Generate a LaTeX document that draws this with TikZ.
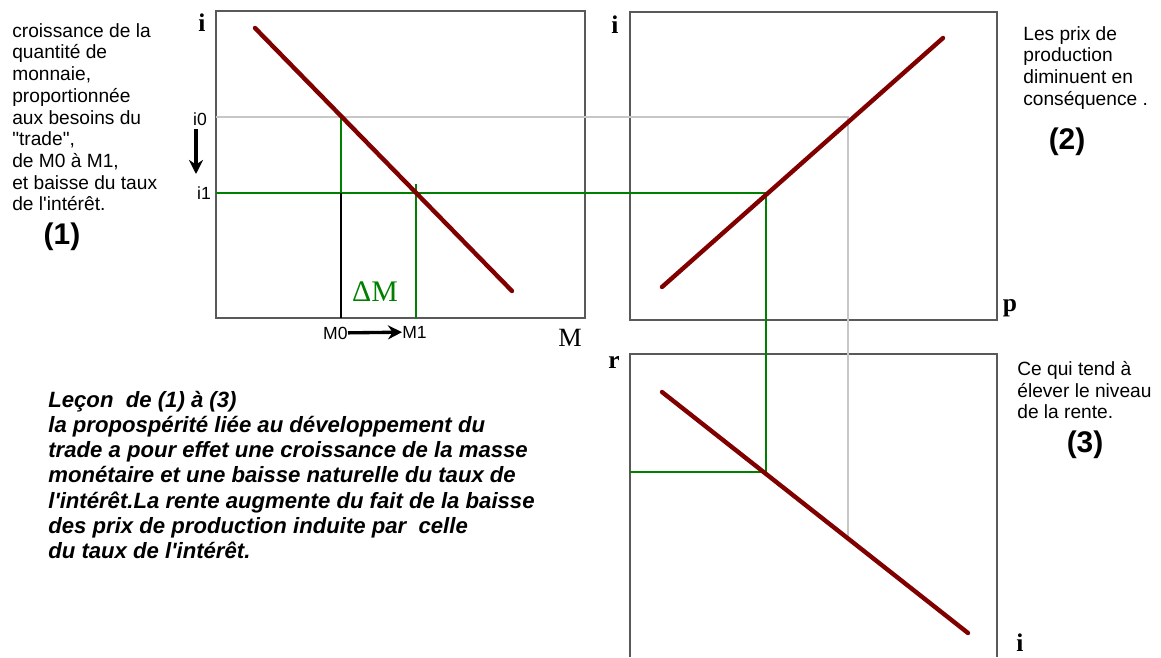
\documentclass[tikz,border=0pt]{standalone}
\usepackage{fontspec}
\setmainfont{Liberation Sans}
\newfontfamily\timesfont{Liberation Serif}
\usepackage{xcolor}
\usepackage{tikz}
\usetikzlibrary{arrows.meta}

\definecolor{rougecourbe}{RGB}{128,0,0}
\definecolor{vertrepere}{RGB}{0,128,0}

\begin{document}
\begin{tikzpicture}[x=0.02cm, y=-0.02cm,
  cadre/.style={draw=black!65, line width=0.75pt},
  courbe/.style={draw=rougecourbe, line width=2.5pt, line cap=round},
  repere/.style={draw=vertrepere, line width=1.1pt},
  guide/.style={draw=black!22, line width=0.7pt},
  texte/.style={font=\fontsize{10.9}{12.35}\selectfont, align=left, inner sep=0pt, anchor=north west},
  lecon/.style={font=\fontsize{12.6}{14.3}\selectfont\bfseries\itshape, align=left, inner sep=0pt, anchor=north west},
  numero/.style={font=\fontsize{17}{20}\selectfont\bfseries, inner sep=0pt},
  axe/.style={font=\timesfont\fontsize{14.5}{16}\selectfont\bfseries, inner sep=0pt},
  petit/.style={font=\fontsize{10}{12}\selectfont, inner sep=0pt},
  fleche/.style={-{Stealth[length=8pt,width=8pt]}, line width=1.9pt}]

\useasboundingbox (0,0) rectangle (1161,657);

% Graphique (1) : i et M
\coordinate (g1bas) at (216,318);
\coordinate (g1haut) at (585,11);
\coordinate (i0) at (216,117);
\coordinate (i1) at (216,193);
\coordinate (E0) at (341,117);
\coordinate (H0) at (341,193);
\coordinate (M0) at (341,318);
\coordinate (E1) at (416,184);
\coordinate (M1) at (416,318);
\coordinate (d1a) at (255,28);
\coordinate (d1b) at (512,291);

% Graphique (2) : i et p
\coordinate (g2bas) at (630,320);
\coordinate (g2haut) at (997,12);
\coordinate (F0) at (848,117);
\coordinate (F1) at (766,193);
\coordinate (d2a) at (662,287);
\coordinate (d2b) at (943,38);

% Graphique (3) : r et i
\coordinate (g3a) at (630,657);
\coordinate (g3b) at (630,354);
\coordinate (g3c) at (997,354);
\coordinate (g3d) at (997,657);
\coordinate (G0) at (848,540);
\coordinate (G1) at (766,472);
\coordinate (r1) at (630,472);
\coordinate (d3a) at (662,392);
\coordinate (d3b) at (968,633);

% Cadres
\draw[cadre] (g1bas) rectangle (g1haut);
\draw[cadre] (g2bas) rectangle (g2haut);
\draw[cadre] (g3a) -- (g3b) -- (g3c) -- (g3d);

% Report de i0 (gris) et de i1 (vert)
\draw[guide] (i0) -- (F0) -- (G0);
\draw[repere] (i1) -- (F1) -- (G1) -- (r1);
\draw[draw=vertrepere, line width=0.6pt] (E0) -- (H0);
\draw[line width=0.6pt] (H0) -- (M0);
\draw[repere] (E1) -- (M1);

% Droites
\draw[courbe] (d1a) -- (d1b);
\draw[courbe] (d2a) -- (d2b);
\draw[courbe] (d3a) -- (d3b);

% Axes
\node[axe] (axi1) at (202,23) {i};
\node[axe, font=\timesfont\fontsize{15}{16}\selectfont] (axM) at (570,338) {M};
\node[axe] (axi2) at (615,25) {i};
\node[axe] (axp) at (1010,308) {p};
\node[axe] (axr) at (614,362) {r};
\node[axe, anchor=south] (axi3) at (1020,652) {i};

% Variations
\node[petit] (ti0) at (200,119) {i0};
\node[petit] (ti1) at (204,193) {i1};
\coordinate (fh) at (196,129);
\coordinate (fb) at (196,174);
\draw[fleche] (fh) -- (fb);
\node[petit, anchor=east] (tM0) at (348,333) {M0};
\node[petit, anchor=west] (tM1) at (402,332) {M1};
\draw[fleche] (tM0) -- (tM1);
\node[font=\timesfont\fontsize{17}{18}\selectfont, text=vertrepere, inner sep=0pt] (dM) at (375,292) {ΔM};

% Commentaires
\node[texte] (t1) at (12,23) {croissance de la\\quantité de\\monnaie,\\proportionnée\\aux besoins du\\\textquotedbl trade\textquotedbl,\\de M0 à M1,\\et baisse du taux\\de l\textquotesingle intérêt.};
\node[numero] (n1) at (62,237) {(1)};
\node[texte] (t2) at (1023,26) {Les prix de\\production\\diminuent en\\conséquence .};
\node[numero] (n2) at (1067,142) {(2)};
\node[texte] (t3) at (1017,361) {Ce qui tend à\\élever le niveau\\de la rente.};
\node[numero] (n3) at (1085,445) {(3)};
\node[lecon] (t4) at (48,391) {Leçon\ \ de (1) à (3)\\la propospérité liée au développement du\\trade a pour effet une croissance de la masse\\monétaire et une baisse naturelle du taux de\\l\textquotesingle intérêt.La rente augmente du fait de la baisse\\des prix de production induite par\ \ celle\\du taux de l\textquotesingle intérêt.};

\end{tikzpicture}
\end{document}
